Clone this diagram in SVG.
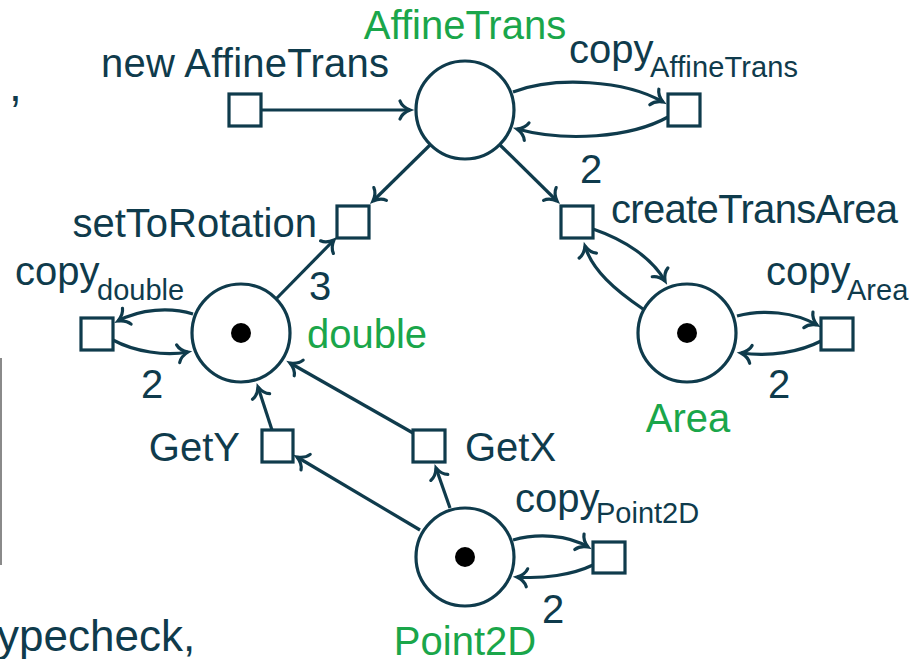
<svg xmlns="http://www.w3.org/2000/svg" width="917" height="659" viewBox="0 0 917 659">
<style>
.lbl{font-family:"Liberation Sans",Arial,sans-serif;font-size:40px;fill:#0f3b4c}
.sub{font-size:29px}
.grn{fill:#1aa64a}
.place{fill:#fff;stroke:#0f3b4c;stroke-width:3.2}
.trans{fill:#fff;stroke:#0f3b4c;stroke-width:3.2}
.tok{fill:#000}
.arc{fill:none;stroke:#0f3b4c;stroke-width:3.2;marker-end:url(#ah)}
</style>
<defs>
<marker id="ah" markerUnits="userSpaceOnUse" viewBox="-15 -13 19 26" markerWidth="19" markerHeight="26" refX="0" refY="0" orient="auto" overflow="visible">
<path d="M-10,-9 C-8,-3.5 -2.5,-1 0,0 C-2.5,1 -8,3.5 -10,9" fill="none" stroke="#0f3b4c" stroke-width="3.2" stroke-linecap="round"/>
</marker>
</defs>
<rect width="917" height="659" fill="#fff"/>

<!-- partial surrounding content -->
<line x1="1" y1="358" x2="1" y2="565" stroke="#8a8a8a" stroke-width="2"/>
<text class="lbl" x="9" y="101" style="font-size:46px">,</text>
<text class="lbl" x="-3" y="651" style="font-size:44px">ypecheck,</text>

<g id="connectors">
<path class="arc" d="M262,110 L410,110"/>
<path class="arc" d="M513,92 C555,76 625,80 663,102"/>
<path class="arc" d="M668,117 C630,138 565,142 517,129"/>
<path class="arc" d="M430,145 L373,201"/>
<path class="arc" d="M500,145 L557,201"/>
<path class="arc" d="M276,299 L334,240"/>
<path class="arc" d="M593,229 C625,240 652,258 665,281"/>
<path class="arc" d="M643,309 C615,290 592,270 585,246"/>
<path class="arc" d="M193,314 C170,307 140,309 118,321"/>
<path class="arc" d="M113,340 C135,352 165,356 188,352"/>
<path class="arc" d="M737,316 C762,309 795,312 817,325"/>
<path class="arc" d="M821,341 C800,352 770,357 741,353"/>
<path class="arc" d="M272,430 L258,387"/>
<path class="arc" d="M413,433 L290,363"/>
<path class="arc" d="M420,530 L297,457"/>
<path class="arc" d="M450,508 L436,468"/>
<path class="arc" d="M513,540 C538,533 568,535 588,547"/>
<path class="arc" d="M593,565 C572,575 543,579 517,577"/>
<text class="lbl" x="591" y="183" text-anchor="middle">2</text>
<text class="lbl" x="320" y="300" text-anchor="middle">3</text>
<text class="lbl" x="152" y="398" text-anchor="middle">2</text>
<text class="lbl" x="779" y="398" text-anchor="middle">2</text>
<text class="lbl" x="553" y="623" text-anchor="middle">2</text>
</g>

<g id="place-AffineTrans">
<circle class="place" cx="465" cy="110" r="49"/>
<text class="lbl grn" x="465" y="39" text-anchor="middle">AffineTrans</text>
</g>
<g id="place-double">
<circle class="place" cx="241" cy="333" r="49"/>
<circle class="tok" cx="241" cy="333" r="10"/>
<text class="lbl grn" x="307" y="348">double</text>
</g>
<g id="place-Area">
<circle class="place" cx="687" cy="333" r="49"/>
<circle class="tok" cx="687" cy="333" r="10"/>
<text class="lbl grn" x="688" y="432" text-anchor="middle">Area</text>
</g>
<g id="place-Point2D">
<circle class="place" cx="465" cy="557" r="49"/>
<circle class="tok" cx="465" cy="557" r="10"/>
<text class="lbl grn" x="465" y="655" text-anchor="middle">Point2D</text>
</g>

<g id="t-newAffineTrans">
<rect class="trans" x="229" y="94" width="32" height="32"/>
<text class="lbl" x="245" y="77" text-anchor="middle" textLength="288">new AffineTrans</text>
</g>
<g id="t-copyAffineTrans">
<rect class="trans" x="668" y="94" width="32" height="32"/>
<text class="lbl" x="569" y="63">copy</text>
<text class="lbl sub" x="650" y="77" textLength="148">AffineTrans</text>
</g>
<g id="t-setToRotation">
<rect class="trans" x="337" y="206" width="32" height="32"/>
<text class="lbl" x="317" y="237" text-anchor="end">setToRotation</text>
</g>
<g id="t-createTransArea">
<rect class="trans" x="561" y="206" width="32" height="32"/>
<text class="lbl" x="611" y="223" textLength="287">createTransArea</text>
</g>
<g id="t-copyDouble">
<rect class="trans" x="81" y="318" width="32" height="32"/>
<text class="lbl" x="15" y="285">copy</text>
<text class="lbl sub" x="97" y="300">double</text>
</g>
<g id="t-copyArea">
<rect class="trans" x="821" y="318" width="32" height="32"/>
<text class="lbl" x="766" y="285">copy</text>
<text class="lbl sub" x="847" y="300">Area</text>
</g>
<g id="t-GetY">
<rect class="trans" x="262" y="430" width="31" height="32"/>
<text class="lbl" x="240" y="461" text-anchor="end">GetY</text>
</g>
<g id="t-GetX">
<rect class="trans" x="413" y="430" width="32" height="32"/>
<text class="lbl" x="465" y="461">GetX</text>
</g>
<g id="t-copyPoint2D">
<rect class="trans" x="593" y="542" width="32" height="31"/>
<text class="lbl" x="515" y="512">copy</text>
<text class="lbl sub" x="596" y="523">Point2D</text>
</g>
</svg>
